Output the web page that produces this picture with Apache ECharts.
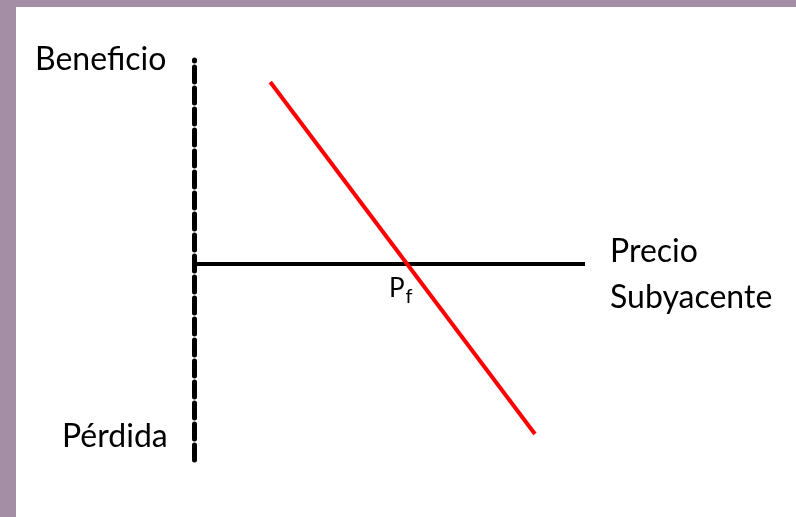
<!DOCTYPE html>
<html>
<head>
<meta charset="utf-8">
<script src="https://cdn.jsdelivr.net/npm/echarts@6/dist/echarts.min.js"></script>
<style>
  html, body { margin: 0; padding: 0; }
  body { width: 796px; height: 517px; background: #a48ea6; position: relative; overflow: hidden; }
  #paper { position: absolute; left: 16px; top: 7px; right: 0; bottom: 0; background: #fff; }
  #chart { position: absolute; left: 0; top: 0; width: 796px; height: 517px; }
</style>
</head>
<body>
<div id="paper"></div>
<div id="chart"></div>
<script>
// payoff diagram: short futures position
const zeroX = [0, 10];       // eje del precio subyacente
const zeroY = [0, 0];
const shortX = [1.95, 8.72]; // posición corta
const shortY = [9.1, -8.5];

const FONT = 'Lato, "Open Sans", sans-serif';

const chart = echarts.init(document.getElementById('chart'));

chart.setOption({
    animation: false,
    backgroundColor: 'transparent',
    grid: { left: 194, top: 60, width: 391, height: 400 },
    xAxis: {
        type: 'value', min: 0, max: 10,
        axisLine: { show: false }, axisTick: { show: false },
        axisLabel: { show: false }, splitLine: { show: false }
    },
    yAxis: {
        type: 'value', min: -9.8, max: 10.2,
        axisLine: { show: true, onZero: false, lineStyle: { color: '#000', width: 5, type: [15, 6] } },
        axisTick: { show: false }, axisLabel: { show: false }, splitLine: { show: false }
    },
    series: [
        {
            type: 'line', symbol: 'none',
            data: zeroX.map((x, i) => [x, zeroY[i]]),
            lineStyle: { color: '#000', width: 4 }
        },
        {
            type: 'line', symbol: 'none',
            data: shortX.map((x, i) => [x, shortY[i]]),
            lineStyle: { color: '#ff0000', width: 4 }
        }
    ],
    graphic: [
        { type: 'text', left: 35, top: 44, style: { text: 'Beneficio', font: '32px ' + FONT, fill: '#000' } },
        { type: 'text', left: 62, top: 421, style: { text: 'Pérdida', font: '32px ' + FONT, fill: '#000' } },
        { type: 'text', left: 610, top: 229, style: { text: 'Precio\nSubyacente', font: '32px ' + FONT, fill: '#000', lineHeight: 46 } },
        {
            type: 'text', left: 389, top: 276,
            style: {
                text: '{p|P}{f|f}',
                rich: {
                    p: { font: '26px ' + FONT, fill: '#000' },
                    f: { font: '20px ' + FONT, fill: '#000', padding: [16, 0, 0, 1] }
                }
            }
        }
    ]
});
</script>
</body>
</html>
